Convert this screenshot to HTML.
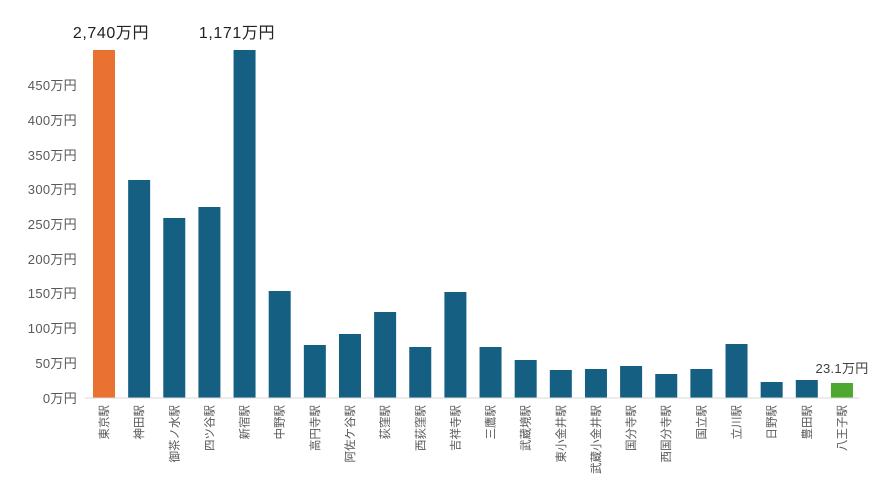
<!DOCTYPE html>
<html><head><meta charset="utf-8"><style>
html,body{margin:0;padding:0;background:#fff;}
svg{display:block;font-family:"Liberation Sans","Noto Sans CJK JP",sans-serif;}
</style></head><body>
<svg width="880" height="490" viewBox="0 0 880 490" xmlns="http://www.w3.org/2000/svg">
<g font-size="13" fill="#595959" text-anchor="end" letter-spacing="0.3">
<text x="77" y="403">0万円</text>
<text x="77" y="368">50万円</text>
<text x="77" y="333">100万円</text>
<text x="77" y="298">150万円</text>
<text x="77" y="264">200万円</text>
<text x="77" y="229">250万円</text>
<text x="77" y="194">300万円</text>
<text x="77" y="160">350万円</text>
<text x="77" y="125">400万円</text>
<text x="77" y="90">450万円</text>
</g>
<line x1="85" y1="398" x2="859" y2="398" stroke="#d9d9d9" stroke-width="1"/>
<g id="bars"></g>
<g id="labels" font-size="11.5" fill="#595959"></g>
<text x="111" y="38" font-size="16" fill="#222" text-anchor="middle" letter-spacing="0.6">2,740万円</text>
<text x="237" y="38" font-size="16" fill="#222" text-anchor="middle" letter-spacing="0.6">1,171万円</text>
<text x="842" y="373" font-size="13" fill="#404040" text-anchor="middle" letter-spacing="0.3">23.1万円</text>
</svg>
<script>
var names=["東京駅","神田駅","御茶ノ水駅","四ツ谷駅","新宿駅","中野駅","高円寺駅","阿佐ケ谷駅","荻窪駅","西荻窪駅","吉祥寺駅","三鷹駅","武蔵境駅","東小金井駅","武蔵小金井駅","国分寺駅","西国分寺駅","国立駅","立川駅","日野駅","豊田駅","八王子駅"];
var tops=[50,180,218,207,50,291,345,334,312,347,292,347,360,370,369,366,374,369,344,382,380,383];
var ns="http://www.w3.org/2000/svg",b=document.getElementById("bars"),l=document.getElementById("labels");
for(var i=0;i<22;i++){
 var x=93+i*35.14;
 var r=document.createElementNS(ns,"rect");
 r.setAttribute("x",x);r.setAttribute("y",tops[i]);r.setAttribute("width",22);r.setAttribute("height",397.5-tops[i]);
 r.setAttribute("fill",i==0?"#E97132":(i==21?"#4EA72E":"#156082"));
 b.appendChild(r);
 var t=document.createElementNS(ns,"text");
 var cx=x+11+4;
 t.setAttribute("transform","translate("+cx+",405) rotate(-90)");
 t.setAttribute("text-anchor","end");
 t.textContent=names[i];
 l.appendChild(t);
}
</script>
</body></html>
